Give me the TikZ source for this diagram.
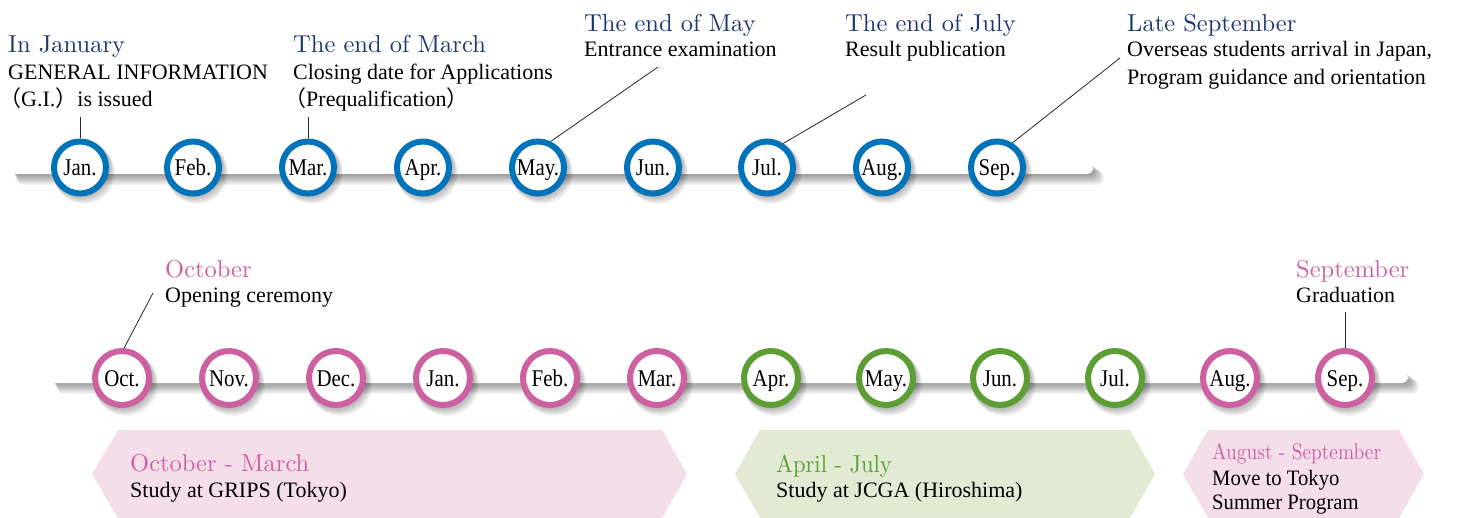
\documentclass[tikz,border=0pt]{standalone}
\usepackage{fontspec}
\newfontfamily\bodyf{Liberation Serif}
\newfontfamily\titlef{lmroman10-regular.otf}
\newfontfamily\cjk{Noto Sans CJK JP}
\definecolor{navy}{RGB}{26,54,112}
\definecolor{ringblue}{RGB}{0,115,187}
\definecolor{ringpink}{RGB}{204,96,160}
\definecolor{ringgreen}{RGB}{93,158,52}
\definecolor{txtpink}{RGB}{208,96,162}
\definecolor{txtgreen}{RGB}{88,158,48}
\definecolor{hexpink}{RGB}{244,222,234}
\definecolor{hexgreen}{RGB}{227,234,212}
\newcommand{\mlabel}[1]{\scalebox{0.87}[1]{#1}}
\begin{document}
\begin{tikzpicture}[x=1pt,y=-1pt,
  month/.style={circle, fill=white, minimum size=52pt, inner sep=0pt, line width=6pt,
    text height=16pt, text depth=0pt,
    font=\bodyf\fontsize{24}{24}\selectfont},
  mblue/.style={month, draw=ringblue},
  mpink/.style={month, draw=ringpink},
  mgreen/.style={month, draw=ringgreen},
  title/.style={anchor=base west, inner sep=0pt, font=\titlef\fontsize{24.5}{24.5}\selectfont},
  body/.style={anchor=base west, inner sep=0pt, font=\bodyf\fontsize{22}{22}\selectfont},
  leader/.style={draw=black!85, line width=0.8pt},
  shadowlayer/.style={fill=black, opacity=0.05}
]
\useasboundingbox (0,0) rectangle (1458,518);

% ---------- bars ----------
\foreach \k in {1,...,9} {
  \fill[shadowlayer, rounded corners=6pt] (12+\k*0.6,163+\k*0.9) rectangle (1093+\k*1.2,174+\k*1.2);
  \fill[shadowlayer, rounded corners=6pt] (52+\k*0.6,372+\k*0.9) rectangle (1408+\k*1.2,383+\k*1.2);
}
\fill[white, rounded corners=5.5pt] (10,163) rectangle (1093,174);
\fill[white, rounded corners=5.5pt] (50,372) rectangle (1408,383);

% ---------- month circles: shadows ----------
\foreach \x in {80,193,308,423,538,653,767,882,997} {
  \foreach \k in {1,...,6} \fill[shadowlayer] (\x+\k*0.7,167+\k*1.0) circle ({29+\k*0.3});
}
\foreach \x in {122,229,336,443,550,657,771,886,1000,1115,1230,1345} {
  \foreach \k in {1,...,6} \fill[shadowlayer] (\x+\k*0.7,378+\k*1.0) circle ({30+\k*0.3});
}

% ---------- month circles ----------
\foreach \i/\x/\m in {1/80/Jan., 2/193/Feb., 3/308/Mar., 4/423/Apr., 5/538/May., 6/653/Jun., 7/767/Jul., 8/882/Aug., 9/997/Sep.}
  \node[mblue] (t\i) at (\x,167.5) {\mlabel{\m}};

\foreach \i/\x/\m/\s in {1/122/Oct./mpink, 2/229/Nov./mpink, 3/336/Dec./mpink, 4/443/Jan./mpink,
   5/550/Feb./mpink, 6/657/Mar./mpink, 7/771/Apr./mgreen, 8/886/May./mgreen, 9/1000/Jun./mgreen,
   10/1115/Jul./mgreen, 11/1230/Aug./mpink, 12/1345/Sep./mpink}
  \node[\s, minimum size=54pt] (b\i) at (\x,378) {\mlabel{\m}};

% ---------- top labels ----------
\node[title, text=navy] (l1t) at (8,53) {In January};
\node[body] (l1a) at (8,80) {GENERAL INFORMATION};
\node[body] (l1b) at (8,107) {{\cjk\hspace*{-9pt}（}G.I.{\cjk ）}is issued};

\node[title, text=navy] (l2t) at (293,53) {The end of March};
\node[body] (l2a) at (293,80) {Closing date for Applications};
\node[body] (l2b) at (293,107) {{\cjk\hspace*{-9pt}（}Prequalification{\cjk ）}};

\node[title, text=navy] (l3t) at (584,32) {The end of May};
\node[body] (l3a) at (584,57) {Entrance examination};

\node[title, text=navy] (l4t) at (845,32) {The end of July};
\node[body] (l4a) at (845,57) {Result publication};

\node[title, text=navy] (l5t) at (1127,32) {Late September};
\node[body] (l5a) at (1127,57) {Overseas students arrival in Japan,};
\node[body] (l5b) at (1127,85) {Program guidance and orientation};

% ---------- bottom labels ----------
\node[title, text=txtpink] (l6t) at (165,278) {October};
\node[body] (l6a) at (165,303) {Opening ceremony};

\node[title, text=txtpink] (l7t) at (1296,278) {September};
\node[body] (l7a) at (1296,303) {Graduation};

% ---------- leaders ----------
\coordinate (c1) at (80,117);
\coordinate (c2) at (308,117);
\coordinate (c3) at (658,67);
\coordinate (c4) at (866,95);
\coordinate (c5) at (1120,58);
\coordinate (c6) at (153,293);
\coordinate (c7) at (1345,312);
\draw[leader] (c1) -- (t1.north);
\draw[leader] (c2) -- (t3.north);
\draw[leader] (c3) -- (t5.64);
\draw[leader] (c4) -- (t7.56);
\draw[leader] (c5) -- (t9.58);
\draw[leader] (c6) -- (b1.86);
\draw[leader] (c7) -- (b12.north);

% ---------- period hexagons ----------
\fill[hexpink] (92,474) -- (118,430) -- (662,430) -- (687,474) -- (662,518) -- (118,518) -- cycle;
\fill[hexgreen] (735,474) -- (760,430) -- (1130,430) -- (1155,474) -- (1130,518) -- (760,518) -- cycle;
\fill[hexpink] (1183,474) -- (1208,430) -- (1399,430) -- (1424,474) -- (1399,518) -- (1208,518) -- cycle;

\node[title, text=txtpink] (p1t) at (130,471) {October - March};
\node[body] (p1a) at (130,497) {Study at GRIPS (Tokyo)};

\node[title, text=txtgreen] (p2t) at (776,472) {\scalebox{0.92}[1]{April - July}};
\node[body] (p2a) at (776,497) {Study at JCGA (Hiroshima)};

\node[title, text=txtpink, font=\titlef\fontsize{22.5}{22.5}\selectfont] (p3t) at (1212,459) {\scalebox{0.86}[1]{August - September}};
\node[body] (p3a) at (1212,485) {\scalebox{0.94}[1]{Move to Tokyo}};
\node[body] (p3b) at (1212,509) {\scalebox{0.94}[1]{Summer Program}};
\end{tikzpicture}
\end{document}
